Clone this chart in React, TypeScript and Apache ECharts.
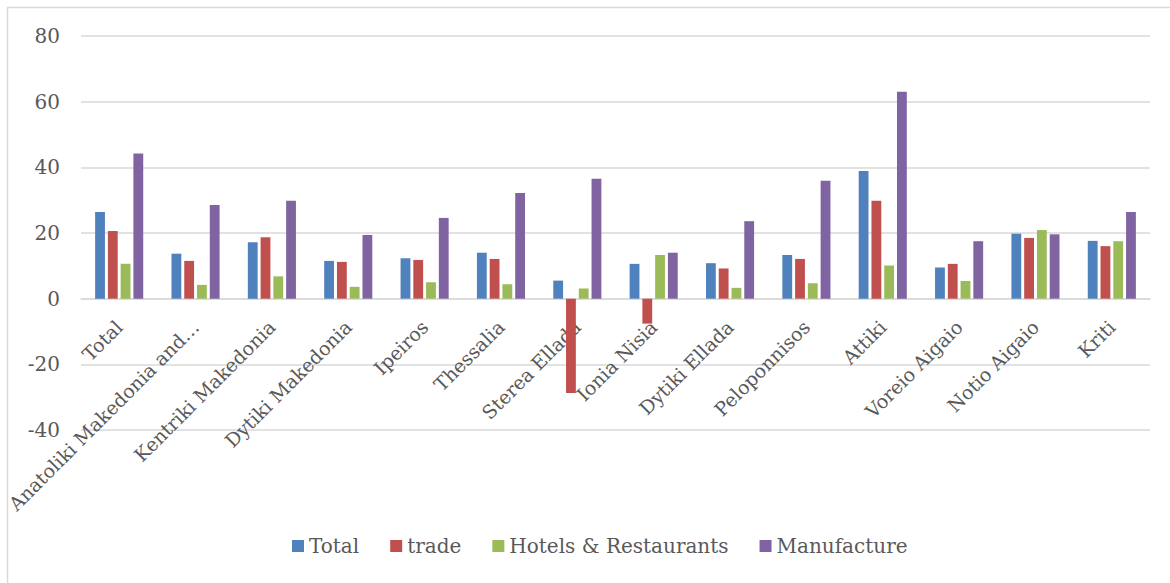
import React, { useEffect, useRef } from "react";
import * as echarts from "echarts";

const categories = [
  "Total",
  "Anatoliki Makedonia and…",
  "Kentriki Makedonia",
  "Dytiki Makedonia",
  "Ipeiros",
  "Thessalia",
  "Sterea Ellada",
  "Ionia Nisia",
  "Dytiki Ellada",
  "Peloponnisos",
  "Attiki",
  "Voreio Aigaio",
  "Notio Aigaio",
  "Kriti",
];

const totalValues = [26.4, 13.7, 17.2, 11.5, 12.3, 14.0, 5.5, 10.6, 10.8, 13.3, 38.9, 9.5, 19.8, 17.6];
const tradeValues = [20.6, 11.5, 18.7, 11.2, 11.8, 12.1, -28.7, -7.6, 9.2, 12.1, 29.8, 10.6, 18.5, 16.0];
const hotelsValues = [10.6, 4.2, 6.8, 3.6, 5.0, 4.4, 3.1, 13.3, 3.3, 4.7, 10.1, 5.4, 20.9, 17.5];
const manufactureValues = [44.2, 28.5, 29.8, 19.4, 24.6, 32.2, 36.5, 14.0, 23.6, 35.9, 63.0, 17.5, 19.6, 26.4];

const seriesNames = ["Total", "trade", "Hotels & Restaurants", "Manufacture"];
const seriesColors = ["#4F81BD", "#C0504D", "#9BBB59", "#8064A2"];

const FONT = "DejaVu Serif";

export default function App() {
  const ref = useRef<HTMLDivElement>(null);
  useEffect(() => {
    if (!ref.current) return;
    const chart = echarts.init(ref.current, undefined, { renderer: "svg" });
    const data = [totalValues, tradeValues, hotelsValues, manufactureValues];
    const yMin = -40;
    const yMax = 80;
    const gridTop = 36;
    const gridBottom = 153;
    const plotH = 583 - gridTop - gridBottom;
    const zeroOffset = -((0 - yMin) / (yMax - yMin)) * plotH;
    chart.setOption({
      animation: false,
      backgroundColor: "#ffffff",
      textStyle: { fontFamily: FONT },
      graphic: [
        {
          type: "rect",
          shape: { x: 7.5, y: 7.5, width: 1300, height: 700 },
          style: { fill: "none", stroke: "#D9D9D9", lineWidth: 1.5 },
          silent: true,
        },
      ],
      grid: {
        left: 81,
        right: 20,
        top: gridTop,
        bottom: gridBottom,
        containLabel: false,
        outerBoundsMode: "none",
      },
      legend: {
        bottom: 22,
        left: 287,
        itemWidth: 12,
        itemHeight: 12,
        itemGap: 31,
        icon: "rect",
        textStyle: { fontFamily: FONT, fontSize: 20, color: "#595959" },
        data: seriesNames,
      },
      xAxis: {
        type: "category",
        data: categories,
        position: "bottom",
        offset: zeroOffset,
        axisLine: { show: true, onZero: false, lineStyle: { color: "#D9D9D9", width: 1.5 } },
        axisTick: { show: false },
        axisLabel: {
          rotate: 45,
          interval: 0,
          margin: 25,
          fontFamily: FONT,
          fontSize: 19,
          color: "#595959",
        },
      },
      yAxis: {
        type: "value",
        min: yMin,
        max: yMax,
        interval: 20,
        axisLine: { show: false },
        axisTick: { show: false },
        splitLine: { lineStyle: { color: "#D9D9D9", width: 1.5 } },
        axisLabel: { fontFamily: FONT, fontSize: 20, color: "#595959", margin: 21 },
      },
      series: seriesNames.map((name, i) => ({
        name,
        type: "bar",
        data: data[i],
        barGap: "30%",
        barCategoryGap: "37%",
        itemStyle: { color: seriesColors[i] },
      })),
    });
    return () => chart.dispose();
  }, []);
  return <div ref={ref} style={{ width: 1170, height: 583, position: "absolute", left: 0, top: 0 }} />;
}
